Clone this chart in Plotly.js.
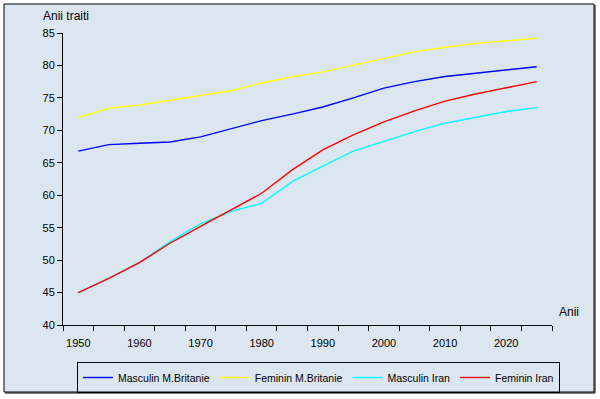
<!DOCTYPE html>
<html>
<head>
<meta charset="utf-8">
<script src="https://cdn.plot.ly/plotly-3.0.1.min.js"></script>
<style>html,body{margin:0;padding:0;background:#fff;}#chart{width:600px;height:399px;}</style>
</head>
<body>
<div id="chart"></div>
<script>
const years = [1950,1955,1960,1965,1970,1975,1980,1985,1990,1995,2000,2005,2010,2015,2020,2025];
const masculinMB = [66.8,67.8,68.0,68.2,69.0,70.3,71.5,72.5,73.6,75.0,76.5,77.5,78.3,78.8,79.3,79.8];
const femininMB  = [71.95,73.4,73.9,74.6,75.3,76.1,77.3,78.25,79.0,80.0,81.1,82.1,82.8,83.4,83.8,84.2];
const masculinIran = [45.0,47.2,49.6,52.85,55.6,57.5,58.75,62.1,64.5,66.8,68.3,69.8,71.1,72.0,72.9,73.5];
const femininIran  = [45.0,47.2,49.6,52.6,55.2,57.8,60.3,63.9,67.0,69.3,71.3,73.0,74.5,75.6,76.5,77.5];
const seriesNames = ["Masculin M.Britanie","Feminin M.Britanie","Masculin Iran","Feminin Iran"];
const labelYears = [1950,1960,1970,1980,1990,2000,2010,2020];
const yTitle = "Anii traiti";
const xTitle = "Anii";

const colors = ["#0000ff","#ffff00","#00ffff","#ff0000"];
const seriesData = [masculinMB, femininMB, masculinIran, femininIran];
const traces = seriesData.map((ys, i) => ({
  x: years, y: ys, type: "scatter", mode: "lines", name: seriesNames[i],
  line: {color: colors[i], width: 1.4}
}));

const L = 63, R = 552, T = 33, B = 325, W = 600, H = 399;
const px = v => (v - L) / (R - L);
const py = v => (B - v) / (B - T);

const layout = {
  width: W, height: H,
  margin: {l: L, r: W - R, t: T, b: H - B, pad: 0, autoexpand: false},
  paper_bgcolor: "#ffffff",
  plot_bgcolor: "rgba(0,0,0,0)",
  font: {family: "Liberation Sans, Arial, sans-serif", size: 11, color: "#000"},
  showlegend: true,
  xaxis: {
    range: [1947.5, 2027.5], tickmode: "array", tickvals: labelYears,
    ticktext: labelYears.map(String), ticks: "", showgrid: false, zeroline: false,
    showline: true, linecolor: "#000", linewidth: 1, ticklabelstandoff: 8,
    minor: {tickmode: "linear", tick0: 1947.5, dtick: 5, ticks: "outside", ticklen: 5, tickcolor: "#000", tickwidth: 1, showgrid: false}
  },
  yaxis: {
    range: [40, 85], dtick: 5, tick0: 40, ticks: "outside", ticklen: 5, tickcolor: "#000",
    showgrid: false, zeroline: false, showline: true, linecolor: "#000", linewidth: 1
  },
  legend: {
    orientation: "h", x: px(77), xanchor: "left", y: py(362), yanchor: "top",
    bordercolor: "#000", borderwidth: 1, bgcolor: "rgba(0,0,0,0)",
    font: {size: 10.5, color: "#000"}, itemwidth: 30, traceorder: "normal"
  },
  shapes: [
    {type: "rect", xref: "paper", yref: "paper", x0: px(4), x1: px(594), y0: py(392), y1: py(4),
     fillcolor: "#dce6f0", line: {color: "#000", width: 1}, layer: "below"},
    {type: "line", xref: "paper", yref: "paper", x0: px(595), x1: px(595), y0: py(393), y1: py(5),
     line: {color: "#000", width: 1}},
    {type: "line", xref: "paper", yref: "paper", x0: px(5), x1: px(595), y0: py(393), y1: py(393),
     line: {color: "#000", width: 1}}
  ],
  annotations: [
    {text: yTitle, xref: "paper", yref: "paper", x: px(41), y: py(16), xanchor: "left", yanchor: "middle", showarrow: false, font: {size: 12}},
    {text: xTitle, xref: "paper", yref: "paper", x: px(557), y: py(312), xanchor: "left", yanchor: "middle", showarrow: false, font: {size: 12}}
  ]
};

Plotly.newPlot("chart", traces, layout, {displayModeBar: false, staticPlot: true});
</script>
</body>
</html>
